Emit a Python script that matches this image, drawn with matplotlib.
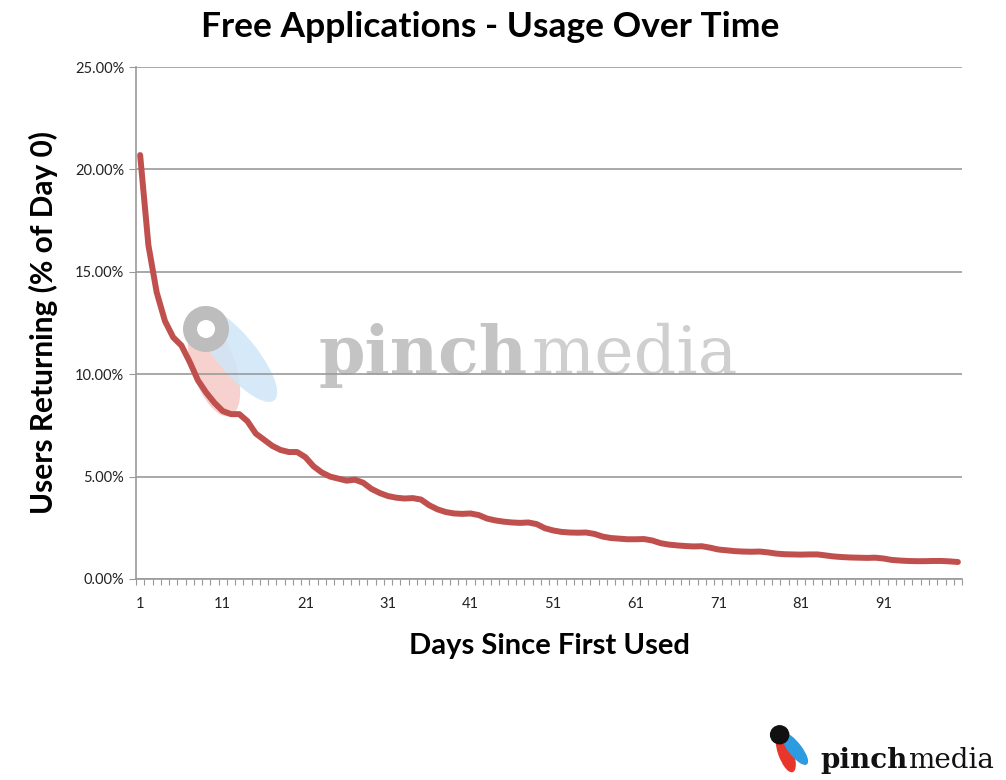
import numpy as np
import matplotlib.pyplot as plt
from matplotlib.patches import Ellipse
from matplotlib.ticker import FuncFormatter

days = np.arange(1, 101)
returning = [
    20.7, 16.3, 14.0, 12.6, 11.8, 11.4, 10.6, 9.7, 9.1, 8.6,
    8.2, 8.05, 8.05, 7.7, 7.1, 6.8, 6.5, 6.3, 6.2, 6.2,
    5.95, 5.5, 5.2, 5.0, 4.9, 4.8, 4.85, 4.7, 4.4, 4.2,
    4.05, 3.97, 3.93, 3.95, 3.88, 3.6, 3.4, 3.27, 3.2, 3.18,
    3.2, 3.12, 2.95, 2.86, 2.8, 2.76, 2.74, 2.76, 2.68, 2.48,
    2.37, 2.3, 2.27, 2.26, 2.27, 2.2, 2.07, 2.0, 1.97, 1.94,
    1.94, 1.95, 1.88, 1.75, 1.68, 1.64, 1.61, 1.59, 1.6, 1.53,
    1.44, 1.4, 1.36, 1.34, 1.33, 1.34, 1.3, 1.24, 1.21, 1.2,
    1.19, 1.2, 1.2, 1.15, 1.1, 1.07, 1.05, 1.04, 1.03, 1.04,
    1.0, 0.93, 0.9, 0.88, 0.87, 0.87, 0.88, 0.88, 0.86, 0.83,
]
x_labels = [1, 11, 21, 31, 41, 51, 61, 71, 81, 91]
y_ticks = [0, 5, 10, 15, 20, 25]

plt.rcParams['font.family'] = ['Lato', 'DejaVu Sans']

fig = plt.figure(figsize=(10.06, 7.8), dpi=100)
ax = fig.add_axes([0.1352, 0.2577, 0.8211, 0.6564])

# pixel-sized ellipses in axes coords (axes is 826 x 512 px)
def blob(cx, cy, w, h, ang, color, alpha=1.0):
    ax.add_patch(Ellipse((cx / 826, cy / 512), w / 826, h / 512, angle=ang,
                         transform=ax.transAxes, color=color, alpha=alpha,
                         lw=0, zorder=0))

# watermark behind the data (positions in px from axes bottom-left)
blob(78, 212, 45, 100, 10, '#f6c9c5', 0.85)
blob(100, 225, 45, 105, 25, '#cfe6f8', 0.85)
blob(70, 250, 46, 46, 0, '#bdbdbd')
blob(70, 250, 18, 18, 0, 'white')
ax.text(0.221, 0.40, "pinch", transform=ax.transAxes, fontsize=48, fontweight='bold',
        family='DejaVu Serif', color='#c4c4c4', va='baseline', zorder=0)
ax.text(0.479, 0.40, "media", transform=ax.transAxes, fontsize=48,
        family='DejaVu Serif', color='#cfcfcf', va='baseline', zorder=0)

ax.plot(days, returning, color='#c0504d', lw=4.3, solid_capstyle='round', zorder=3)

ax.set_xlim(0.5, 100.5)
ax.set_ylim(0, 25)
ax.set_yticks(y_ticks)
ax.yaxis.set_major_formatter(FuncFormatter(lambda v, p: f"{v:.2f}%"))
ax.set_xticks(x_labels)
ax.set_xticks(np.arange(0.5, 101, 1), minor=True)
ax.tick_params(axis='x', which='major', length=0, pad=13, labelsize=10.5, labelcolor='#222222')
ax.tick_params(axis='x', which='minor', length=4, color='#999999', width=0.8)
ax.tick_params(axis='y', length=5, color='#999999', labelsize=10.5, labelcolor='#222222')

ax.grid(axis='y', color='#9a9a9a', lw=1.2, zorder=1)
ax.set_axisbelow(True)
for s in ['top', 'right']:
    ax.spines[s].set_visible(False)
for s in ['left', 'bottom']:
    ax.spines[s].set_color('#9a9a9a')
    ax.spines[s].set_linewidth(1.2)

ax.set_xlabel("Days Since First Used", fontsize=21, fontweight='bold', labelpad=16)
ax.set_ylabel("Users Returning (% of Day 0)", fontsize=21.5, fontweight='bold', labelpad=12)
fig.text(0.487, 0.966, "Free Applications - Usage Over Time", ha='center', va='center',
         fontsize=25.5, fontweight='bold')

# corner logo
fig.text(0.815, 0.015, "pinch", fontsize=20, fontweight='bold', family='DejaVu Serif',
         color='#111111', va='baseline')
fig.text(0.903, 0.015, "media", fontsize=20, family='DejaVu Serif',
         color='#111111', va='baseline')
fig.patches.append(Ellipse((0.781, 0.035), 0.014, 0.05, angle=15, transform=fig.transFigure,
                           color='#e8362a', figure=fig))
fig.patches.append(Ellipse((0.790, 0.040), 0.013, 0.045, angle=30, transform=fig.transFigure,
                           color='#2c9be0', figure=fig))
fig.patches.append(Ellipse((0.775, 0.058), 0.018, 0.023, transform=fig.transFigure,
                           color='#111111', figure=fig))

fig.savefig("out.png", dpi=100)
